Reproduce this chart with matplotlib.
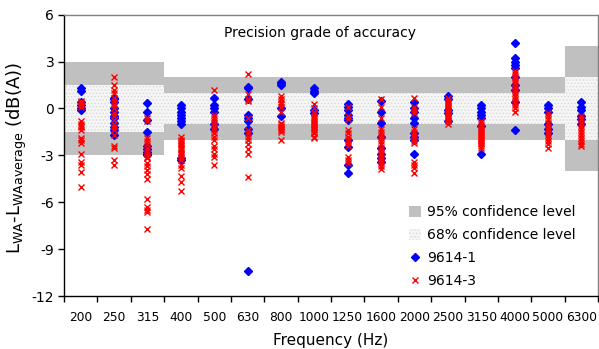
import matplotlib
matplotlib.use("Agg")
import matplotlib.pyplot as plt
from matplotlib.patches import Patch
from matplotlib.lines import Line2D

plt.rcParams['font.family'] = ['DejaVu Sans']
plt.rcParams['axes.unicode_minus'] = False
plt.rcParams['hatch.linewidth'] = 0.6

categories = ['200', '250', '315', '400', '500', '630', '800', '1000', '1250',
              '1600', '2000', '2500', '3150', '4000', '5000', '6300']

# confidence band limits per frequency band (dB)
band68 = [1.5, 1.5, 1.5, 1, 1, 1, 1, 1, 1, 1, 1, 1, 1, 1, 1, 2]
band95 = [3, 3, 3, 2, 2, 2, 2, 2, 2, 2, 2, 2, 2, 2, 2, 4]

series_1 = [  # 9614-1
    [1.3, 1.1, 0.4, 0.2, 0.0, -0.1],
    [0.7, 0.6, 0.4, 0.0, -0.2, -0.5, -0.6, -0.9, -1.2, -1.4, -1.7],
    [0.35, -0.25, -0.75, -1.5, -2.4, -2.6, -2.8, -2.9, -3.0],
    [0.25, 0.0, -0.2, -0.4, -0.6, -0.8, -1.0, -3.2, -3.3],
    [0.65, 0.2, 0.0, -0.2, -1.0, -1.3],
    [1.4, 1.3, 0.6, -0.4, -0.6, -0.8, -1.3, -1.6, -10.4],
    [1.7, 1.6, 1.5, 0.0, -0.5],
    [1.3, 1.1, 1.0, -0.1, -0.3],
    [0.3, 0.1, -0.1, -0.4, -0.6, -0.75, -2.0, -2.45, -3.6, -4.15],
    [0.5, -0.2, -0.9, -1.8, -2.5, -2.9, -3.2, -3.4],
    [0.4, 0.0, -0.2, -0.6, -0.9, -1.6, -1.8, -2.0, -2.9],
    [0.8, 0.6, -0.1, -0.3, -0.8],
    [0.2, 0.0, -0.2, -0.4, -0.6, -1.1, -2.9],
    [4.2, 3.2, 3.0, 2.8, 2.6, 2.0, 1.5, 1.2, 0.4, -1.35],
    [0.2, 0.0, -0.2, -1.0, -1.3, -1.6],
    [0.4, 0.1, -0.1, -0.5, -0.7, -1.0],
]

series_3 = [  # 9614-3
    [0.5, 0.4, 0.3, 0.2, 0.1, -0.8, -1.0, -1.1, -1.2, -1.4, -1.9, -2.0, -2.2,
     -2.9, -3.4, -3.6, -4.05, -5.0],
    [2.0, 1.5, 1.2, 1.0, 0.7, 0.5, 0.2, 0.0, -0.3, -0.5, -0.75, -1.0, -1.2,
     -1.4, -1.7, -2.4, -2.5, -3.3, -3.6],
    [-0.6, -0.8, -1.9, -2.1, -2.3, -2.5, -2.7, -2.9, -3.1, -3.2, -3.5, -3.7,
     -3.95, -4.2, -4.5, -5.8, -6.3, -6.5, -6.6, -7.7],
    [-1.8, -2.0, -2.1, -2.2, -2.3, -2.4, -2.5, -2.6, -2.8, -2.9, -3.0, -3.1,
     -3.3, -3.6, -3.8, -4.3, -4.7, -5.3],
    [1.2, -0.4, -0.6, -0.8, -0.95, -1.2, -1.4, -1.6, -1.8, -2.0, -2.4, -2.6,
     -2.9, -3.1, -3.6],
    [2.2, 0.9, 0.6, 0.5, -0.6, -1.4, -1.6, -1.8, -2.0, -2.3, -2.6, -2.9, -4.4],
    [0.8, 0.6, 0.4, 0.3, 0.1, -0.2, -0.9, -1.0, -1.1, -1.2, -1.3, -1.4, -1.5,
     -2.0],
    [0.3, 0.0, -0.2, -0.3, -0.5, -0.6, -0.7, -0.8, -0.9, -1.0, -1.1, -1.2,
     -1.3, -1.4, -1.5, -1.6, -1.8, -1.9],
    [0.1, -0.5, -0.7, -1.4, -1.6, -1.8, -2.0, -2.2, -2.4, -3.1, -3.3, -3.5],
    [0.6, 0.1, -0.6, -1.3, -1.5, -1.7, -1.9, -2.1, -2.3, -2.5, -2.7, -2.9,
     -3.1, -3.3, -3.5, -3.7, -3.9],
    [0.7, 0.1, -0.1, -0.3, -1.3, -1.5, -1.7, -1.9, -2.1, -2.2, -3.4, -3.6,
     -3.8, -4.1],
    [0.7, 0.5, 0.4, 0.3, 0.2, 0.1, 0.0, -0.1, -0.2, -0.3, -0.4, -0.5, -0.6,
     -0.7, -0.8, -1.0],
    [-0.8, -1.0, -1.2, -1.3, -1.4, -1.5, -1.6, -1.7, -1.8, -1.9, -2.0, -2.1,
     -2.2, -2.3, -2.4, -2.5],
    [2.4, 2.2, 2.0, 1.8, 1.6, 1.4, 1.2, 1.0, 0.8, 0.6, 0.4, 0.2, 0.0, -0.2],
    [-0.3, -0.5, -0.7, -0.9, -1.1, -1.3, -1.5, -1.7, -1.9, -2.1, -2.3, -2.5],
    [-0.5, -0.7, -0.9, -1.1, -1.3, -1.5, -1.7, -1.9, -2.1, -2.3, -2.4],
]

yticks = [6, 3, 0, -3, -6, -9, -12]

fig = plt.figure(figsize=(5.99, 3.49), dpi=100)
ax = fig.add_axes([64 / 599, 53 / 349, 534 / 599, 281.3 / 349])

xs = list(range(len(categories)))
gray = '#c0c0c0'
inner = [2 * b for b in band68]
neg_inner = [-b for b in band68]
upper_h = [o - i for o, i in zip(band95, band68)]
neg_outer = [-o for o in band95]

# 68% band (light dotted)
ax.bar(xs, inner, bottom=neg_inner, width=1.0, color='#f6f6f6',
       edgecolor='#d8d8d8', hatch='.....', linewidth=0, zorder=1)
# 95% bands (gray)
ax.bar(xs, upper_h, bottom=band68, width=1.0, color=gray, linewidth=0, zorder=1)
ax.bar(xs, upper_h, bottom=neg_outer, width=1.0, color=gray, linewidth=0, zorder=1)

blue_ms = 4.0
red_ms = 4.6
for i, vals in enumerate(series_1):
    ax.plot([i] * len(vals), vals, linestyle='none', marker='D', ms=blue_ms,
            color='#0000ff', mec='#0000ff', zorder=3)
for i, vals in enumerate(series_3):
    ax.plot([i] * len(vals), vals, linestyle='none', marker='x', ms=red_ms,
            mew=1.0, color='#ff0000', zorder=4)

ax.set_xlim(-0.5, len(categories) - 0.5)
ax.set_ylim(-12, 6)
ax.set_yticks(yticks)
ax.set_yticklabels([str(t) for t in yticks], fontsize=10)
ax.set_xticks(xs)
ax.set_xticklabels(categories, fontsize=8.8)
ax.set_xticks([x - 0.5 for x in range(len(categories) + 1)], minor=True)
ax.tick_params(axis='x', which='major', length=0, pad=11)
ax.tick_params(axis='x', which='minor', length=4, width=1, direction='out')
ax.tick_params(axis='y', which='major', length=4, width=1, direction='out', pad=3)

for s in ['left', 'bottom']:
    ax.spines[s].set_color('black')
    ax.spines[s].set_linewidth(1)
for s in ['top', 'right']:
    ax.spines[s].set_color('#808080')
    ax.spines[s].set_linewidth(1)

ax.set_xlabel('Frequency (Hz)', fontsize=11, labelpad=6)
ax.set_ylabel(r'L$_{\mathrm{WA}}$-L$_{\mathrm{WAaverage}}$ (dB(A))', fontsize=13,
              va='center')
ax.yaxis.set_label_coords(-0.088, 0.49)

ax.text(0.48, 0.935, 'Precision grade of accuracy', transform=ax.transAxes,
        ha='center', va='center', fontsize=10)

handles = [
    Patch(facecolor=gray, edgecolor='none', label='95% confidence level'),
    Patch(facecolor='#f6f6f6', edgecolor='#d8d8d8', hatch='.....', linewidth=0,
          label='68% confidence level'),
    Line2D([], [], linestyle='none', marker='D', ms=blue_ms, color='#0000ff',
           label='9614-1'),
    Line2D([], [], linestyle='none', marker='x', ms=red_ms, mew=1.0,
           color='#ff0000', label='9614-3'),
]
ax.legend(handles=handles, loc='lower left', bbox_to_anchor=(0.635, 0.01),
          frameon=False, fontsize=10, handlelength=0.9, handleheight=0.8,
          handletextpad=0.4, labelspacing=0.63, borderaxespad=0)

fig.savefig('out.png', dpi=100)
